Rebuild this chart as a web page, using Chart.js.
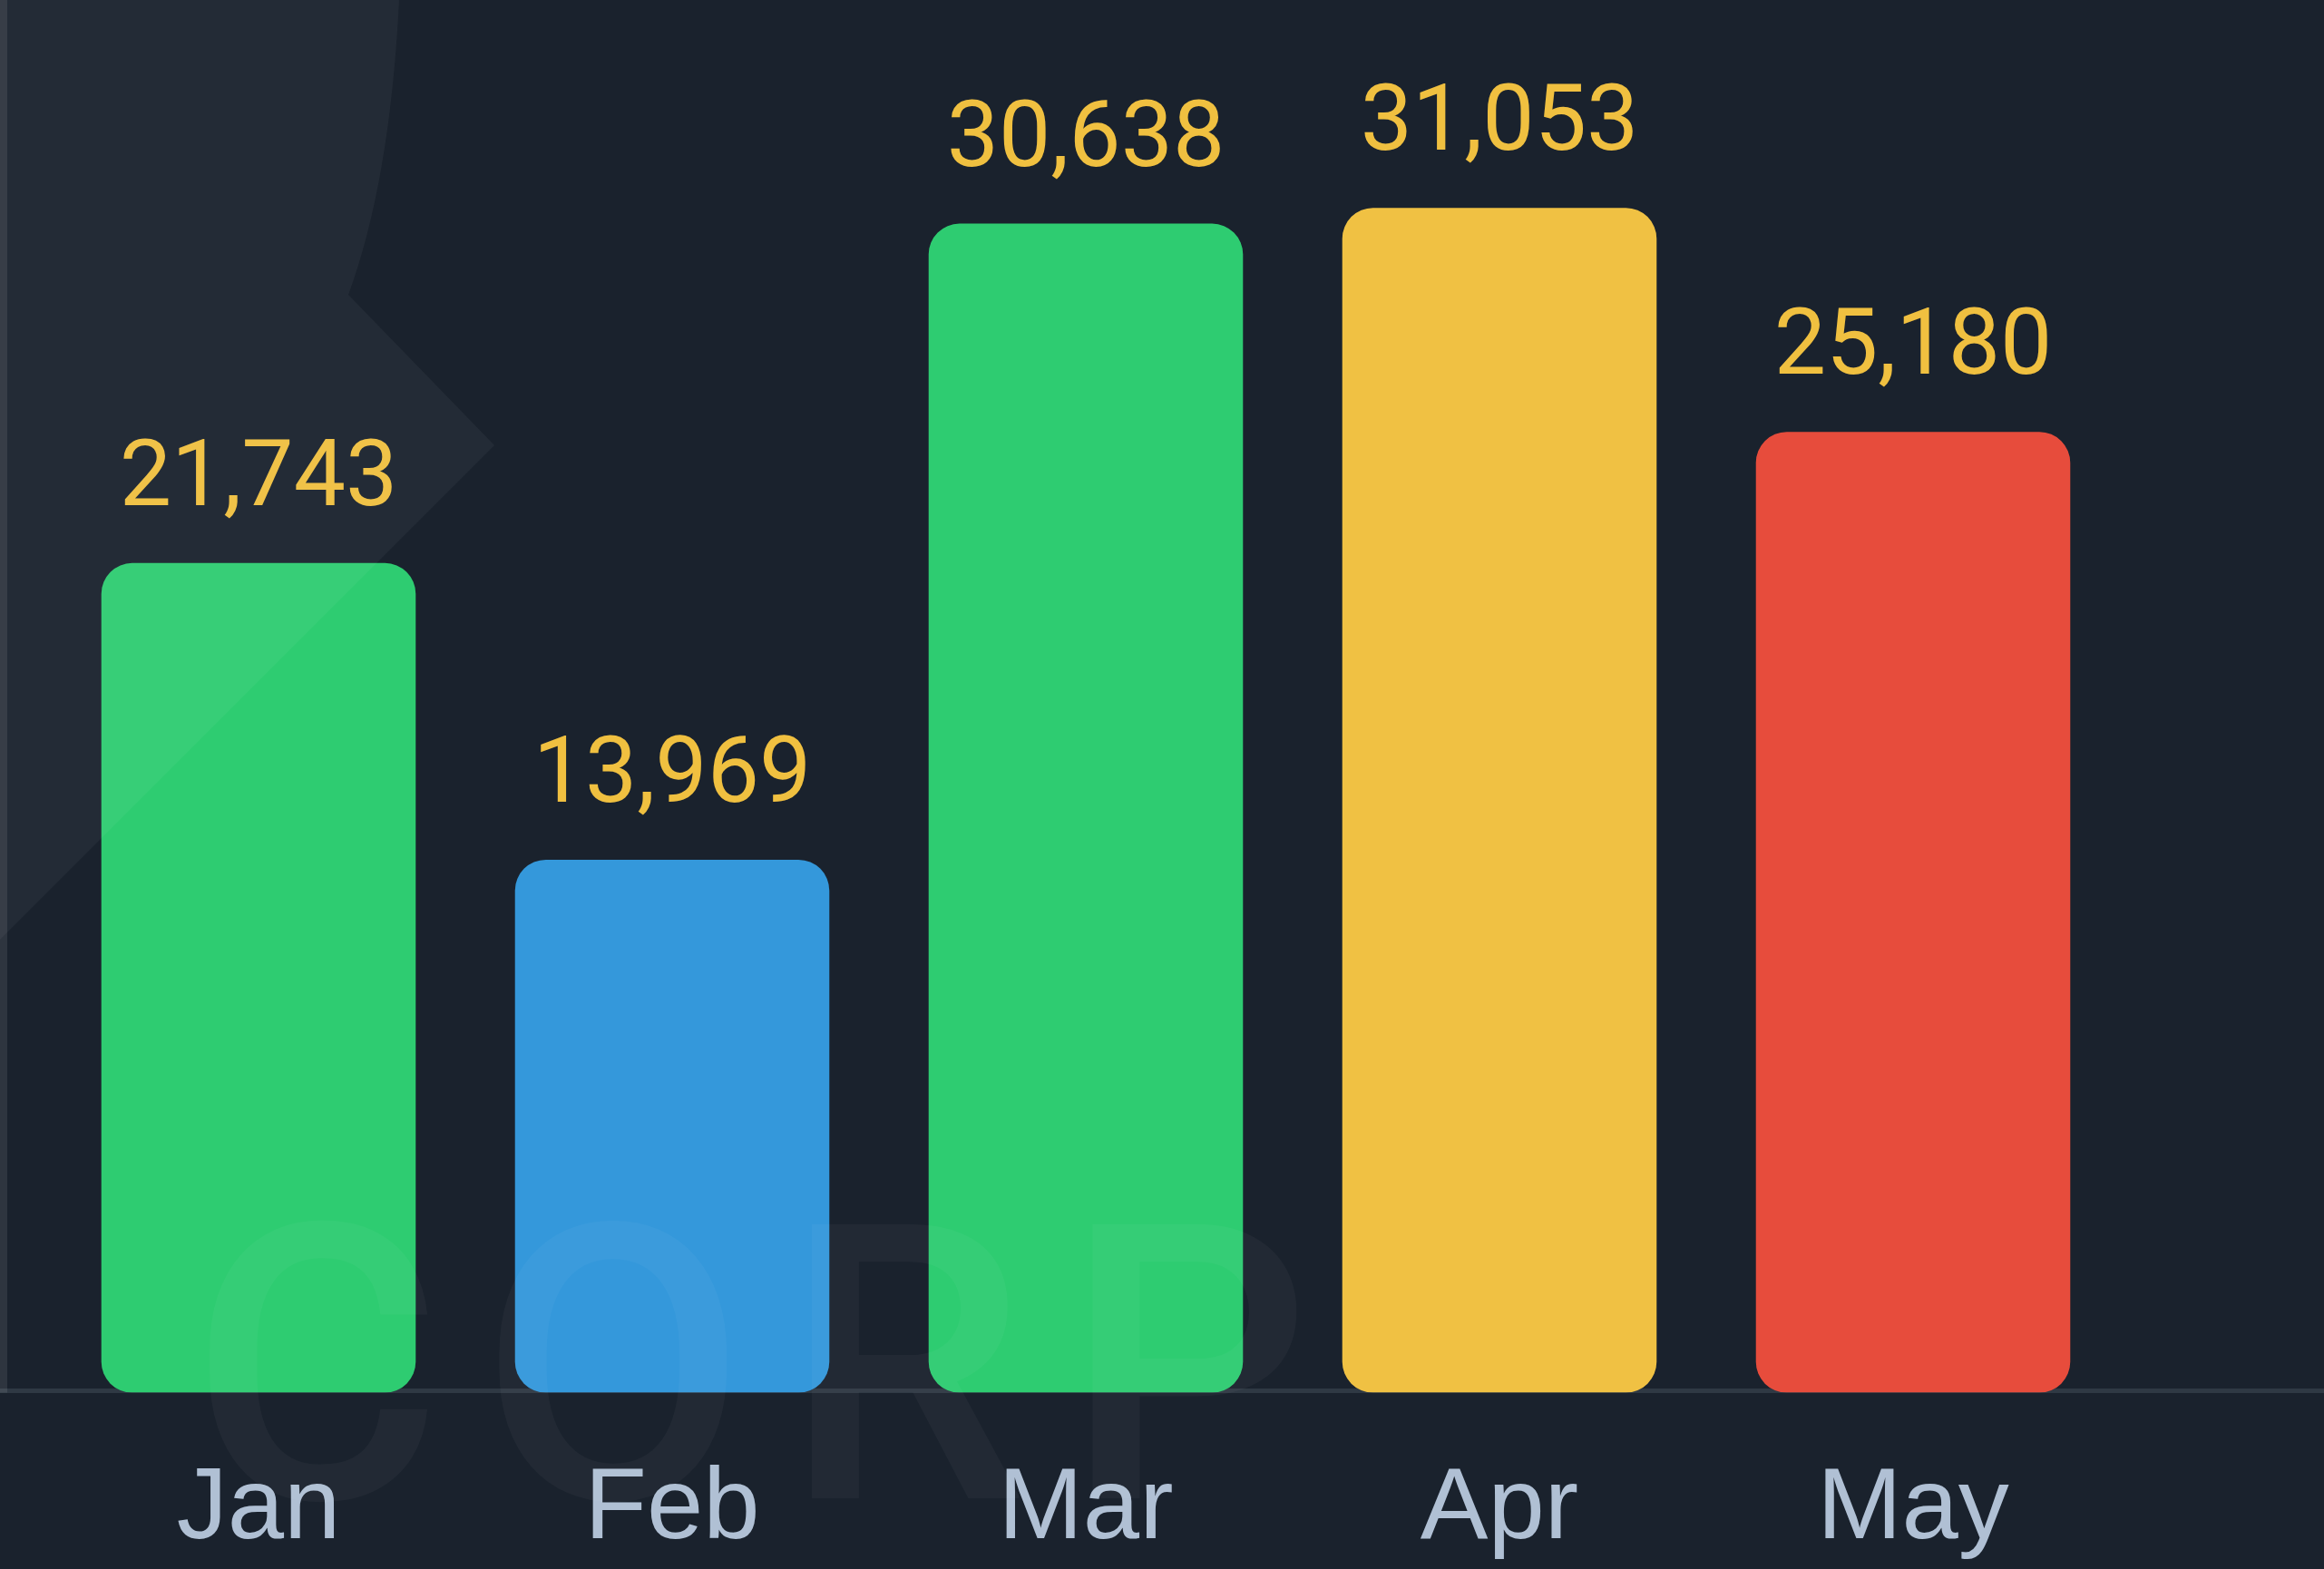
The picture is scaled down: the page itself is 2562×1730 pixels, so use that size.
<!DOCTYPE html>
<html>
<head>
<meta charset="utf-8">
<script src="https://cdn.jsdelivr.net/npm/chart.js@4"></script>
<style>
  html, body { margin: 0; padding: 0; background: #1a222d; overflow: hidden; }
  #wrap { width: 2562px; height: 1794px; position: relative; }
</style>
</head>
<body>
<div id="wrap"><canvas id="chart"></canvas></div>
<script>
const months = ["Jan", "Feb", "Mar", "Apr", "May"];
const sales = [21743, 13969, 30638, 31053, 25180];
const barColors = ["#2ecc71", "#3498db", "#2ecc71", "#f0c143", "#e74c3c"];

const BG = "#1a222d";
const LABEL_COLOR = "#f0c040";
const TICK_COLOR = "#b0c0d4";

// background, faint logo + watermark, base line, value labels
const decor = {
  id: "decor",
  beforeDraw(chart) {
    const ctx = chart.ctx;
    ctx.save();
    ctx.fillStyle = BG;
    ctx.fillRect(0, 0, chart.width, chart.height);
    ctx.restore();
  },
  beforeDatasetsDraw(chart) {
    const ctx = chart.ctx;
    const y0 = chart.scales.y.getPixelForValue(0);
    ctx.save();
    ctx.strokeStyle = "#2f3944";
    ctx.lineWidth = 5;
    ctx.beginPath();
    ctx.moveTo(0, y0 - 2);
    ctx.lineTo(chart.width, y0 - 2);
    ctx.stroke();
    ctx.fillStyle = "rgba(255,255,255,0.09)";
    ctx.fillRect(0, 0, 8, y0);
    ctx.restore();
  },
  afterDatasetsDraw(chart) {
    const ctx = chart.ctx;
    const meta = chart.getDatasetMeta(0);
    ctx.save();
    ctx.font = "400 102px Roboto";
    ctx.fillStyle = LABEL_COLOR;
    ctx.textAlign = "center";
    ctx.textBaseline = "alphabetic";
    meta.data.forEach((bar, i) => {
      ctx.fillText(sales[i].toLocaleString("en-US"), bar.x, bar.y - 64);
    });
    ctx.restore();
  },
  afterDraw(chart) {
    const ctx = chart.ctx;
    ctx.save();
    ctx.fillStyle = "rgba(255,255,255,0.045)";
    ctx.beginPath();
    ctx.moveTo(0, 0);
    ctx.lineTo(440, 0);
    ctx.quadraticCurveTo(430, 200, 384, 325);
    ctx.lineTo(545, 491);
    ctx.lineTo(0, 1036);
    ctx.closePath();
    ctx.fill();

    ctx.fillStyle = "rgba(255,255,255,0.035)";
    ctx.font = "500 425px Roboto";
    ctx.letterSpacing = "42px";
    ctx.textAlign = "left";
    ctx.textBaseline = "alphabetic";
    ctx.fillText("CORP", 210, 1652);
    ctx.restore();
  }
};

new Chart(document.getElementById("chart"), {
  type: "bar",
  data: {
    labels: months,
    datasets: [{
      data: sales,
      backgroundColor: barColors,
      borderRadius: 34,
      borderSkipped: false,
      categoryPercentage: 0.95,
      barPercentage: 0.8
    }]
  },
  options: {
    responsive: true,
    maintainAspectRatio: false,
    animation: false,
    layout: { padding: { left: 57, right: 225, top: 0, bottom: 0 } },
    plugins: {
      legend: { display: false },
      tooltip: { enabled: false }
    },
    scales: {
      x: {
        grid: { display: false, drawTicks: false },
        border: { display: false },
        ticks: {
          color: TICK_COLOR,
          padding: 62,
          font: { family: "'Liberation Sans', Arial, sans-serif", size: 112, lineHeight: 1.2 }
        }
      },
      y: {
        display: false,
        min: 0,
        max: 36500
      }
    }
  },
  plugins: [decor]
});
</script>
</body>
</html>
